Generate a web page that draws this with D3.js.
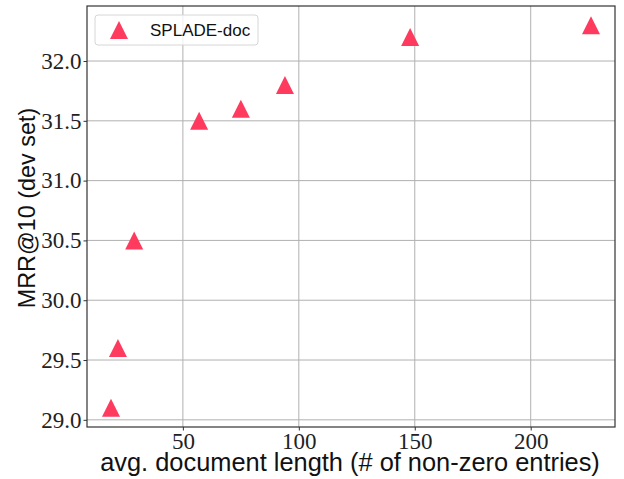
<!DOCTYPE html>
<html>
<head>
<meta charset="utf-8">
<script src="https://cdn.jsdelivr.net/npm/d3@7"></script>
<style>
  body { margin: 0; background: #fff; }
  svg { display: block; }
  .tick text { font-family: "Liberation Serif", "DejaVu Serif", serif !important; }
</style>
</head>
<body>
<svg id="chart" width="624" height="479"></svg>
<script>
// avg. doc length vs MRR@10
const docLength = [19, 22, 29, 57, 75, 94, 148, 226];
const mrr = [29.1, 29.6, 30.5, 31.5, 31.6, 31.8, 32.2, 32.3];
const xTicks = [50, 100, 150, 200];
const yTicks = [29.0, 29.5, 30.0, 30.5, 31.0, 31.5, 32.0];
const seriesName = 'SPLADE-doc';

const svg = d3.select('#chart');
const margin = { top: 6, right: 9, bottom: 52, left: 87 };
const width = 624 - margin.left - margin.right;
const height = 479 - margin.top - margin.bottom;
const markerColor = '#fe3a5e';

// matplotlib-style 5% padding around data
const xPad = (d3.max(docLength) - d3.min(docLength)) * 0.05;
const yPad = (d3.max(mrr) - d3.min(mrr)) * 0.05;

const xScale = d3.scaleLinear()
    .domain([d3.min(docLength) - xPad, d3.max(docLength) + xPad])
    .range([0, width]);
const yScale = d3.scaleLinear()
    .domain([d3.min(mrr) - yPad, d3.max(mrr) + yPad])
    .range([height, 0]);

// triangle like matplotlib '^' (bbox centered)
const triUp = {
    draw(ctx, size) {
        const r = Math.sqrt(size) / 2;
        ctx.moveTo(0, -r);
        ctx.lineTo(r, r);
        ctx.lineTo(-r, r);
        ctx.closePath();
    }
};
const marker = d3.symbol().type(triUp).size(18 * 18);

const g = svg.append('g')
    .attr('transform', `translate(${margin.left},${margin.top})`);

// grid
g.append('g')
    .selectAll('line')
    .data(xTicks)
    .enter()
    .append('line')
    .attr('x1', d => xScale(d)).attr('x2', d => xScale(d))
    .attr('y1', 0).attr('y2', height)
    .attr('stroke', '#b0b0b0').attr('stroke-width', 1);
g.append('g')
    .selectAll('line')
    .data(yTicks)
    .enter()
    .append('line')
    .attr('y1', d => yScale(d)).attr('y2', d => yScale(d))
    .attr('x1', 0).attr('x2', width)
    .attr('stroke', '#b0b0b0').attr('stroke-width', 1);

// X Axis
const xAxis = g.append('g')
    .attr('transform', `translate(0,${height})`)
    .call(d3.axisBottom(xScale).tickValues(xTicks).tickSizeOuter(0).tickSize(3.5).tickPadding(2));
// Y Axis
const yAxis = g.append('g')
    .call(d3.axisLeft(yScale).tickValues(yTicks).tickFormat(d3.format('.1f')).tickSizeOuter(0).tickSize(3.5).tickPadding(2));

[xAxis, yAxis].forEach(ax => {
    ax.attr('font-family', '"Liberation Serif", serif').attr('font-size', 23);
    ax.select('.domain').remove();
    ax.selectAll('line').attr('stroke', '#333');
    ax.selectAll('text').attr('fill', '#222');
});

// frame
g.append('rect')
    .attr('width', width).attr('height', height)
    .attr('fill', 'none').attr('stroke', '#333').attr('stroke-width', 1.2);

// points
g.selectAll('.pt')
    .data(docLength)
    .enter()
    .append('path')
    .attr('class', 'pt')
    .attr('d', marker)
    .attr('transform', (d, i) => `translate(${xScale(d)},${yScale(mrr[i])})`)
    .attr('fill', markerColor);

// legend
const legend = g.append('g').attr('transform', 'translate(8,9)');
legend.append('rect')
    .attr('width', 163).attr('height', 30).attr('rx', 3)
    .attr('fill', '#fff').attr('fill-opacity', 0.8)
    .attr('stroke', '#d6d6d6');
legend.append('path')
    .attr('d', marker)
    .attr('transform', 'translate(24,15)')
    .attr('fill', markerColor);
legend.append('text')
    .attr('x', 55).attr('y', 21)
    .style('font-family', '"Liberation Sans", Arial, sans-serif')
    .style('font-size', '17px')
    .attr('fill', '#111')
    .text(seriesName);

// Y-Axis Title
svg.append('text')
    .attr('transform', 'translate(35,208) rotate(-90)')
    .style('text-anchor', 'middle')
    .style('font-family', '"Liberation Sans", Arial, sans-serif')
    .style('font-size', '23.4px')
    .attr('fill', '#111')
    .text('MRR@10 (dev set)');

// X-Axis Title
svg.append('text')
    .attr('x', 350)
    .attr('y', 471)
    .style('text-anchor', 'middle')
    .style('font-family', '"Liberation Sans", Arial, sans-serif')
    .style('font-size', '25.4px')
    .attr('fill', '#111')
    .text('avg. document length (# of non-zero entries)');
</script>
</body>
</html>
